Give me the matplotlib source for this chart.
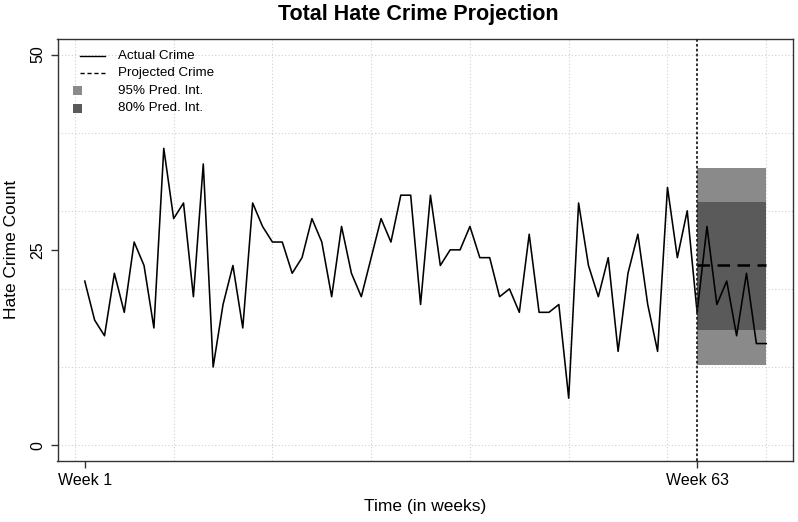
import matplotlib
matplotlib.use("Agg")
import matplotlib.pyplot as plt
from matplotlib.patches import Rectangle
from matplotlib.lines import Line2D
import numpy as np

plt.rcParams['font.family'] = ['Liberation Sans', 'DejaVu Sans']

# ---- data ----
weeks = list(range(1, 71))
crime = [21, 16, 14, 22, 17, 26, 23, 15, 38, 29, 31, 19, 36, 10, 18, 23, 15, 31, 28, 26,
         26, 22, 24, 29, 26, 19, 28, 22, 19, 24, 29, 26, 32, 32, 18, 32, 23, 25, 25, 28,
         24, 24, 19, 20, 17, 27, 17, 17, 18, 6, 31, 23, 19, 24, 12, 22, 27, 18, 12, 33,
         24, 30, 17, 28, 18, 21, 14, 22, 13, 13]
forecast_start = 63
forecast_end = 70
proj_mean = 23.0
pi80 = (14.7, 31.1)
pi95 = (10.3, 35.5)
xtick_pos = [1, 63]
xtick_labels = ["Week 1", "Week 63"]
ytick_pos = [0, 25, 50]

W, H = 798, 522
fig = plt.figure(figsize=(W / 100, H / 100), dpi=100)
L, R, B, T = 57.5, 793.5, 460.7, 39.0
ax = fig.add_axes([L / W, 1 - B / H, (R - L) / W, (B - T) / H])

ax.set_xlim(1 - 0.04 * 69, 70 + 0.04 * 69)
ax.set_ylim(-2, 52)

# grid
for gx in range(0, 71, 10):
    ax.axvline(gx, color='#d0d0d0', lw=0.8, ls=(0, (1, 2)), zorder=0)
for gy in range(0, 51, 10):
    ax.axhline(gy, color='#d0d0d0', lw=0.8, ls=(0, (1, 2)), zorder=0)

# prediction bands
ax.fill_between([forecast_start, forecast_end], pi95[0], pi95[1], color='#8a8a8a', lw=0, zorder=1)
ax.fill_between([forecast_start, forecast_end], pi80[0], pi80[1], color='#5a5a5a', lw=0, zorder=2)

# actual line
ax.plot(weeks, crime, color='black', lw=1.15, zorder=3)
# projection
ax.plot([forecast_start, forecast_end], [proj_mean, proj_mean], color='black', lw=1.8,
        ls=(0, (5, 3)), zorder=4)
ax.axvline(forecast_start, color='#222222', lw=1.3, ls=(0, (1.5, 1.2)), zorder=4)

for s in ax.spines.values():
    s.set_color('#333333')
    s.set_linewidth(1.0)

ax.set_xticks(xtick_pos)
ax.set_xticklabels(xtick_labels)
ax.set_yticks(ytick_pos)
ax.set_yticklabels([str(v) for v in ytick_pos], rotation=90, va='center')
ax.tick_params(axis='both', length=5, width=1.0, color='#333333', labelsize=11.5)
ax.tick_params(axis='x', pad=4)
ax.tick_params(axis='y', pad=4)

ax.set_xlabel("Time (in weeks)", fontsize=12.5)
ax.xaxis.set_label_coords(0.5, -0.090)
ax.xaxis.label.set_va('top')
ax.set_ylabel("Hate Crime Count", fontsize=12.5)
ax.yaxis.set_label_coords(-0.052, 0.5)

fig.text(418 / W, 1 - 20 / H, "Total Hate Crime Projection", ha='center', va='baseline',
         fontsize=15.5, fontweight='bold')

# legend (manual, axes fraction)
aw, ah = R - L, B - T
def fx(px): return (px - L) / aw
def fy(py): return 1 - (py - T) / ah
rows = [55.7, 73.0, 90.7, 108.0]
labels = ["Actual Crime", "Projected Crime", "95% Pred. Int.", "80% Pred. Int."]
ax.add_line(Line2D([fx(80), fx(105)], [fy(rows[0])] * 2, color='black', lw=1.0, transform=ax.transAxes))
ax.add_line(Line2D([fx(80), fx(105)], [fy(rows[1])] * 2, color='black', lw=1.0, ls=(0, (3, 2)),
                   transform=ax.transAxes))
for r, c in zip(rows[2:], ['#8a8a8a', '#5a5a5a']):
    ax.add_patch(Rectangle((fx(72.5), fy(r + 4.5)), 9 / aw, 9 / ah, color=c, lw=0,
                           transform=ax.transAxes))
for r, lab in zip(rows, labels):
    ax.text(fx(117.5), fy(r), lab, transform=ax.transAxes, ha='left', va='center', fontsize=9.6)

fig.savefig("out.png", dpi=100)
